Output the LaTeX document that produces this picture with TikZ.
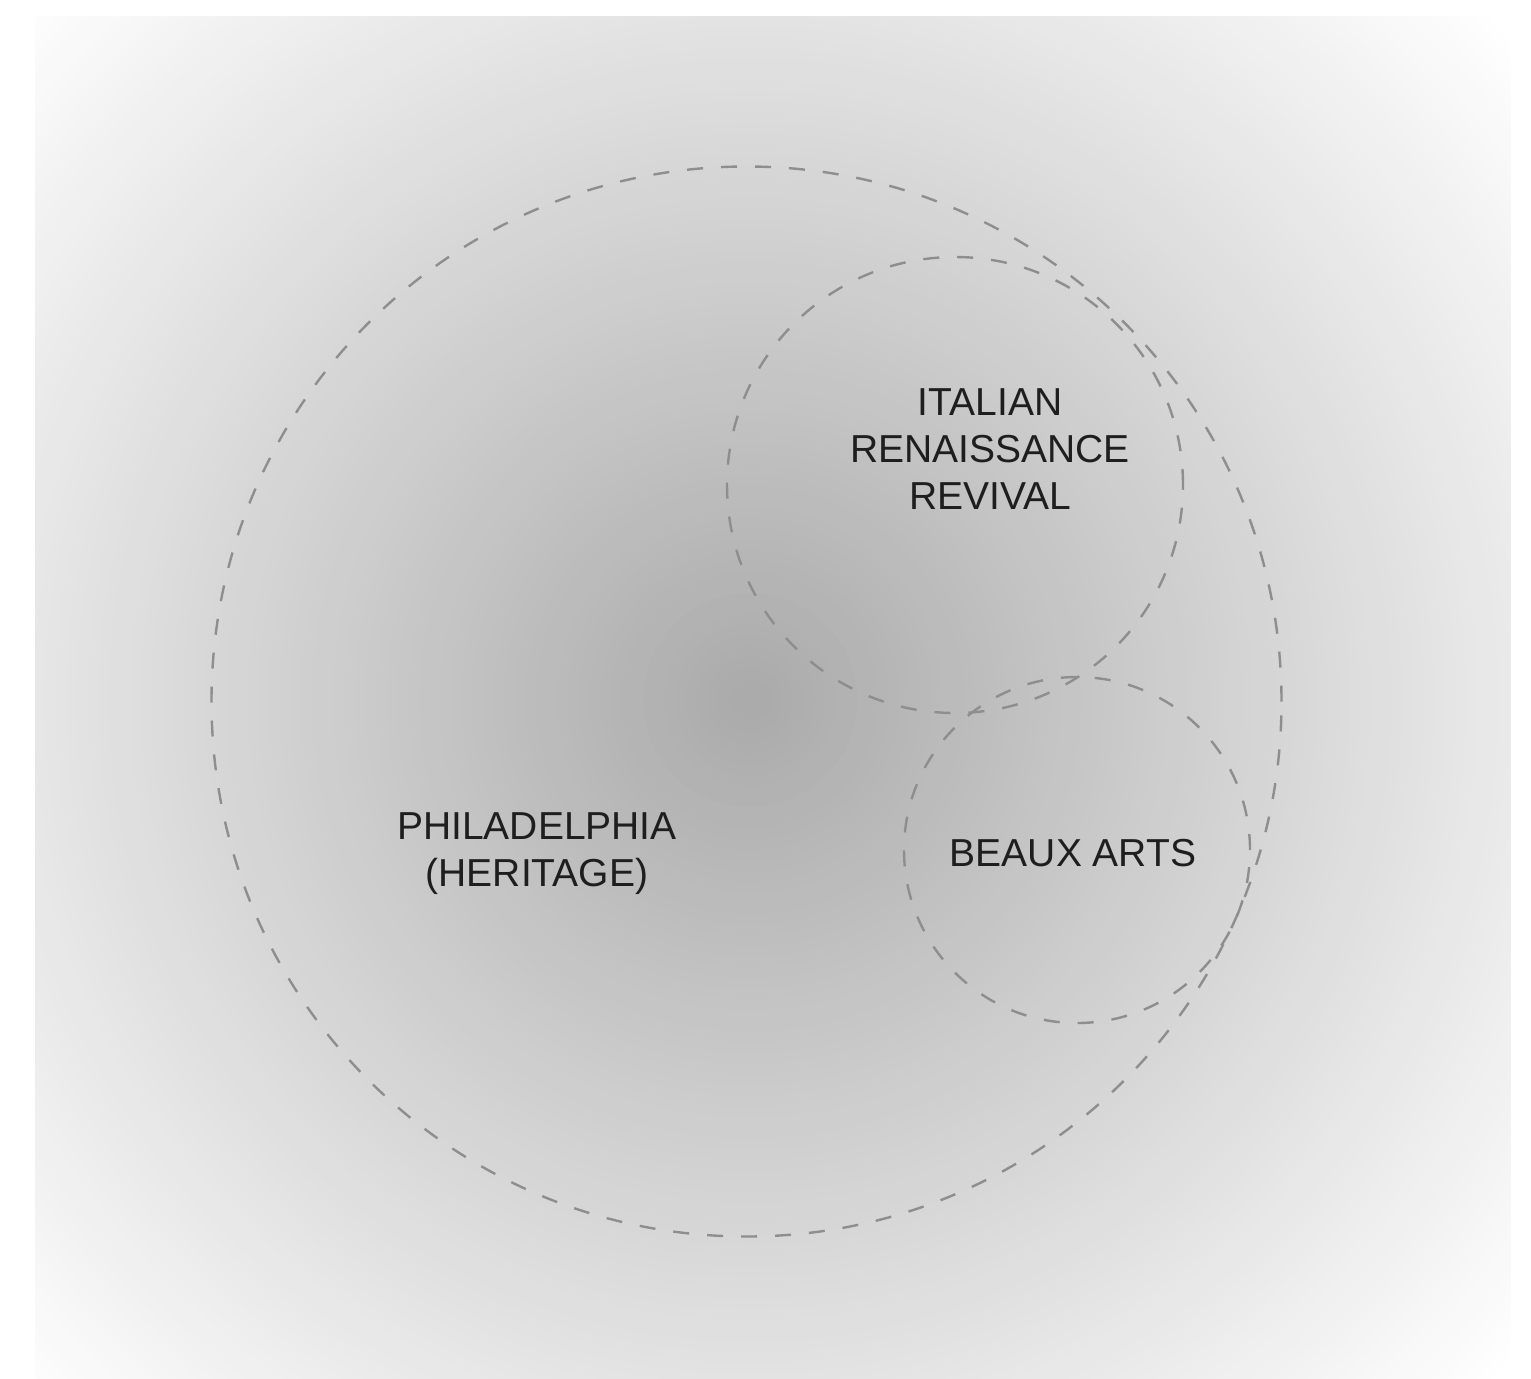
\documentclass[tikz,border=0pt]{standalone}
\usepackage{fontspec}
\setmainfont{Liberation Sans}
\definecolor{linec}{HTML}{8E8E8E}
\definecolor{textc}{HTML}{1E1E1E}
\tikzset{
  bubble/.style={circle, draw=linec, line width=1.2pt, dash pattern=on 8pt off 9pt, inner sep=0pt},
  lbl/.style={font=\fontsize{19.5pt}{23.5pt}\selectfont, text=textc, align=center, inner sep=0pt}
}
\begin{document}
\begin{tikzpicture}[x=0.5pt,y=-0.5pt]
\useasboundingbox (0,0) rectangle (1531,1378);
\fill[white] (0,0) rectangle (1531,1378);
\begin{scope}
  \clip (35,16) rectangle (1510,1378);
  \foreach \i in {0,...,99}{
    \pgfmathsetmacro\dd{1.45*(1-\i/100)}
    \pgfmathsetmacro\gg{min(1,0.665+0.335*(\dd/1.38))}
    \definecolor{bgtmp}{gray}{\gg}
    \fill[bgtmp] (750,700) circle [radius=\dd*737];
  }
\end{scope}
\node[bubble, minimum size=535pt] (phil) at (746.5,701.5) {};
\node[bubble, minimum size=228pt] (ital) at (955,485) {};
\node[bubble, minimum size=173pt] (beaux) at (1077,850) {};
\node[lbl] (italt) at (990,449) {ITALIAN\\RENAISSANCE\\REVIVAL};
\node[lbl] (philt) at (537,854) {PHILADELPHIA\\(HERITAGE)};
\node[lbl] (beauxt) at (1073,853) {BEAUX ARTS};
\end{tikzpicture}
\end{document}
